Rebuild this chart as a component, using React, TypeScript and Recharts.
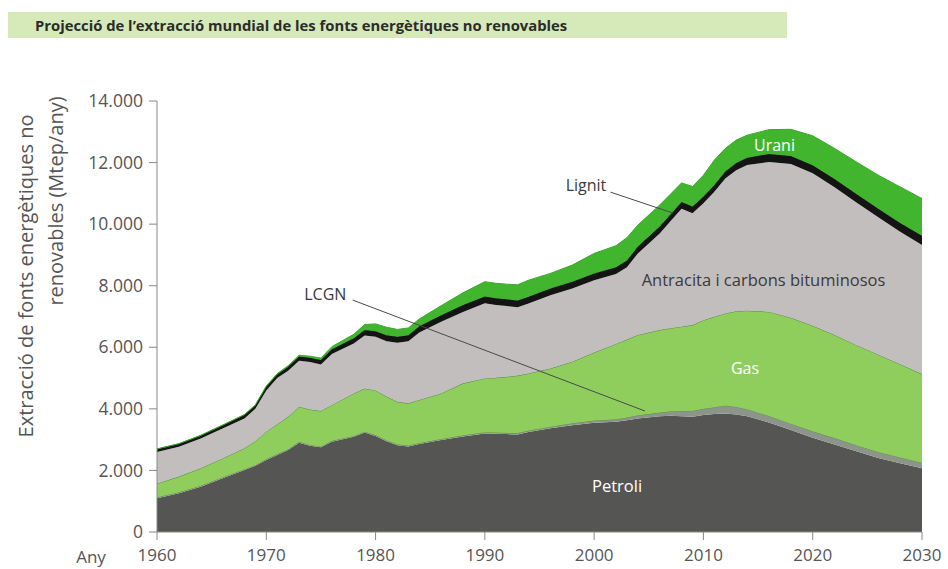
import React from 'react';
import { AreaChart, Area, XAxis, YAxis, ReferenceLine, ReferenceDot } from 'recharts';

const years = [1960, 1962, 1964, 1966, 1968, 1969, 1970, 1971, 1972, 1973, 1974, 1975, 1976, 1978, 1979, 1980, 1981, 1982, 1983, 1984, 1986, 1988, 1990, 1991, 1992, 1993, 1994, 1996, 1998, 2000, 2002, 2003, 2004, 2006, 2007, 2008, 2009, 2010, 2011, 2012, 2013, 2014, 2016, 2018, 2020, 2022, 2024, 2026, 2028, 2030];

const petroli = [1100, 1260, 1470, 1750, 2010, 2150, 2340, 2500, 2660, 2900, 2800, 2750, 2930, 3090, 3230, 3120, 2950, 2820, 2780, 2860, 2990, 3100, 3200, 3190, 3180, 3170, 3250, 3370, 3470, 3550, 3580, 3630, 3690, 3760, 3780, 3760, 3740, 3800, 3830, 3850, 3820, 3760, 3560, 3310, 3060, 2840, 2620, 2400, 2230, 2070];

const lcgn = [30, 30, 30, 30, 30, 30, 30, 30, 30, 30, 30, 30, 30, 30, 30, 30, 30, 30, 30, 30, 30, 40, 40, 40, 40, 45, 45, 50, 60, 70, 80, 90, 100, 120, 140, 170, 200, 200, 220, 260, 240, 230, 210, 210, 210, 210, 200, 200, 190, 180];

const gas = [440, 510, 570, 610, 680, 770, 890, 970, 1050, 1140, 1150, 1150, 1160, 1380, 1400, 1450, 1420, 1380, 1370, 1400, 1480, 1690, 1750, 1780, 1820, 1865, 1855, 1890, 2000, 2210, 2450, 2530, 2610, 2680, 2700, 2740, 2780, 2880, 2940, 2990, 3110, 3200, 3380, 3440, 3430, 3350, 3250, 3160, 3030, 2880];

const antracita = [1030, 970, 970, 970, 970, 1050, 1340, 1500, 1500, 1490, 1540, 1510, 1660, 1620, 1720, 1740, 1800, 1920, 2020, 2190, 2330, 2320, 2440, 2360, 2300, 2220, 2270, 2380, 2380, 2350, 2270, 2350, 2650, 3140, 3480, 3830, 3630, 3800, 4060, 4380, 4580, 4730, 4870, 4990, 4950, 4800, 4630, 4460, 4300, 4190];

const lignit = [90, 90, 90, 100, 110, 110, 120, 120, 130, 140, 140, 150, 160, 170, 180, 180, 190, 190, 190, 200, 210, 220, 220, 220, 220, 220, 220, 220, 220, 220, 220, 220, 220, 220, 220, 220, 220, 220, 220, 230, 240, 240, 260, 260, 260, 270, 280, 280, 290, 300];

const urani = [10, 10, 10, 15, 15, 20, 20, 25, 30, 40, 50, 60, 80, 130, 180, 240, 260, 240, 240, 240, 310, 400, 480, 490, 490, 510, 540, 490, 540, 650, 700, 740, 700, 700, 660, 620, 650, 690, 810, 750, 740, 730, 790, 870, 960, 990, 1040, 1090, 1170, 1210];

const xTicks = [1960, 1970, 1980, 1990, 2000, 2010, 2020, 2030];
const yTicks = [0, 2000, 4000, 6000, 8000, 10000, 12000, 14000];

const title = 'Projecció de l’extracció mundial de les fonts energètiques no renovables';
const yTitle1 = 'Extracció de fonts energètiques no';
const yTitle2 = 'renovables (Mtep/any)';
const xTitle = 'Any';

const data = years.map((year, i) => ({
  year,
  petroli: petroli[i],
  lcgn: lcgn[i],
  gas: gas[i],
  antracita: antracita[i],
  lignit: lignit[i],
  urani: urani[i],
}));

const FONT = "'Open Sans', 'Noto Sans', sans-serif";
const fmt = (v: number) => String(v).replace(/\B(?=(\d{3})+(?!\d))/g, '.');

const xTickStyle = { fill: '#555', fontSize: 17, fontFamily: FONT };
const yTickStyle = { fill: '#555', fontSize: 17.5, fontFamily: FONT };

export default function App() {
  return (
    <div style={{ position: 'absolute', left: 0, top: 0, width: 948, height: 569, background: '#fff', fontFamily: FONT }}>
      <svg width={948} height={569} style={{ position: 'absolute', left: 0, top: 0 }}>
        <rect x={8} y={12} width={779} height={26} fill="#d6e9b8" />
        <text x={35} y={30.5} fontSize={14.8} fontWeight={700} fill="#2b2b2b" fontFamily={FONT}>{title}</text>
        <text x={25} y={276} fontSize={20} fill="#555" fontFamily={FONT} textAnchor="middle" dominantBaseline="central" transform="rotate(-90, 25, 276)">{yTitle1}</text>
        <text x={55} y={201} fontSize={20} fill="#555" fontFamily={FONT} textAnchor="middle" dominantBaseline="central" transform="rotate(-90, 55, 201)">{yTitle2}</text>
        <text x={91} y={556} fontSize={17} fill="#555" fontFamily={FONT} textAnchor="middle" dominantBaseline="central">{xTitle}</text>
      </svg>
      <div style={{ position: 'absolute', left: 0, top: 0 }}>
        <AreaChart width={948} height={569} data={data} margin={{ top: 101, right: 26, bottom: 3, left: 0 }}>
          <XAxis
            dataKey="year"
            type="number"
            domain={[1960, 2030]}
            ticks={xTicks}
            height={34}
            tickSize={8}
            tickMargin={9}
            stroke="#888"
            tick={xTickStyle}
            allowDataOverflow
          />
          <YAxis
            type="number"
            domain={[0, 14000]}
            ticks={yTicks}
            width={157}
            tickSize={8}
            tickMargin={6}
            stroke="#888"
            tick={yTickStyle}
            tickFormatter={fmt}
          />
          <Area type="linear" dataKey="petroli" stackId="1" fill="#555553" fillOpacity={1} stroke="#555553" strokeWidth={0} isAnimationActive={false} dot={false} activeDot={false} />
          <Area type="linear" dataKey="lcgn" stackId="1" fill="#8d948b" fillOpacity={1} stroke="#5f9448" strokeWidth={1} isAnimationActive={false} dot={false} activeDot={false} />
          <Area type="linear" dataKey="gas" stackId="1" fill="#8fce5c" fillOpacity={1} stroke="#4e8a3a" strokeWidth={1} isAnimationActive={false} dot={false} activeDot={false} />
          <Area type="linear" dataKey="antracita" stackId="1" fill="#c3bebe" fillOpacity={1} stroke="none" isAnimationActive={false} dot={false} activeDot={false} />
          <Area type="linear" dataKey="lignit" stackId="1" fill="#141414" fillOpacity={1} stroke="#141414" strokeWidth={1} isAnimationActive={false} dot={false} activeDot={false} />
          <Area type="linear" dataKey="urani" stackId="1" fill="#42b52e" fillOpacity={1} stroke="#3aa82a" strokeWidth={1} isAnimationActive={false} dot={false} activeDot={false} />
          <ReferenceLine segment={[{ x: 1977.9, y: 7535 }, { x: 2004.65, y: 3930 }]} stroke="#4a4a4a" strokeWidth={1} />
          <ReferenceLine segment={[{ x: 2001.5, y: 11040 }, { x: 2007.2, y: 10360 }]} stroke="#4a4a4a" strokeWidth={1} />
          <ReferenceDot x={2016.5} y={12570} r={1} fill="none" stroke="none" label={{ value: 'Urani', position: 'center', fill: '#ffffff', fontSize: 16, fontFamily: FONT }} />
          <ReferenceDot x={1999.25} y={11270} r={1} fill="none" stroke="none" label={{ value: 'Lignit', position: 'center', fill: '#3a3a3a', fontSize: 16, fontFamily: FONT }} />
          <ReferenceDot x={1975.4} y={7730} r={1} fill="none" stroke="none" label={{ value: 'LCGN', position: 'center', fill: '#3a3a3a', fontSize: 16, fontFamily: FONT }} />
          <ReferenceDot x={2015.5} y={8185} r={1} fill="none" stroke="none" label={{ value: 'Antracita i carbons bituminosos', position: 'center', fill: '#3a3a3a', fontSize: 16.5, fontFamily: FONT }} />
          <ReferenceDot x={2013.8} y={5326} r={1} fill="none" stroke="none" label={{ value: 'Gas', position: 'center', fill: '#ffffff', fontSize: 16, fontFamily: FONT }} />
          <ReferenceDot x={2002.1} y={1494} r={1} fill="none" stroke="none" label={{ value: 'Petroli', position: 'center', fill: '#ffffff', fontSize: 16.5, fontFamily: FONT }} />
        </AreaChart>
      </div>
    </div>
  );
}
